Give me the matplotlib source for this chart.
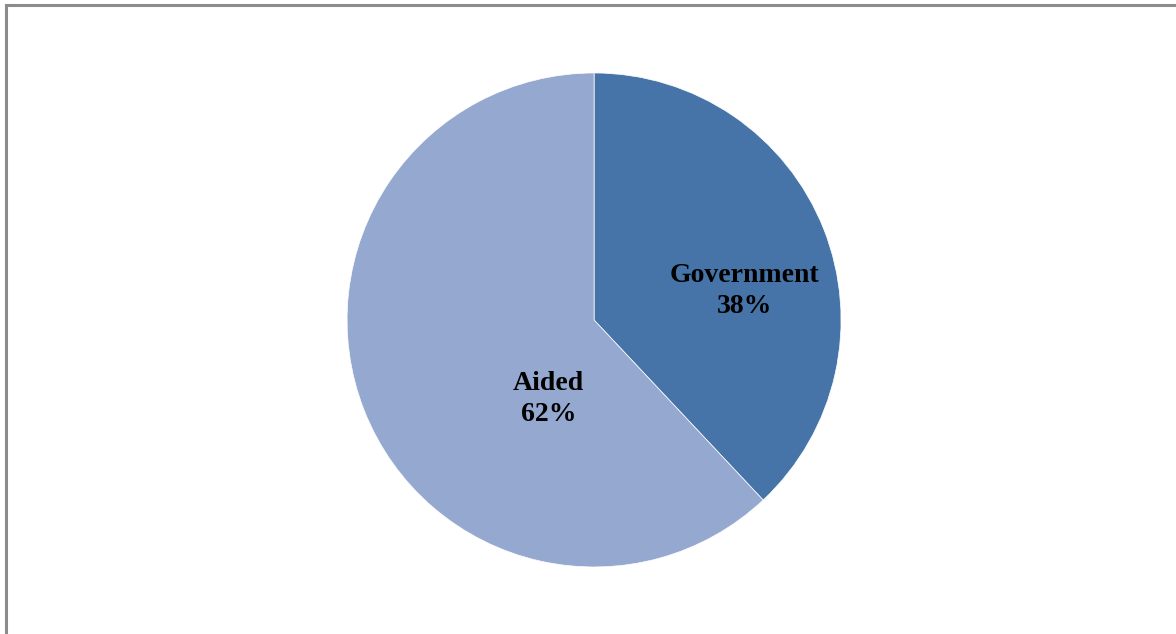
import numpy as np
import matplotlib.pyplot as plt
from matplotlib.lines import Line2D

categories = ["Government", "Aided"]
shares = [38, 62]
colors = ["#4674A8", "#95A9D0"]

# label placement as (radius fraction, angle in degrees)
label_spots = [(0.62, 11.0), (0.37, 240.0)]

fig = plt.figure(figsize=(11.76, 6.34), dpi=100)
fig.patch.set_facecolor("white")

# frame around the chart area (only top and left fall inside the canvas)
fig.add_artist(Line2D([0.005, 1.0], [0.992, 0.992], transform=fig.transFigure,
                      color="#8c8c8c", lw=2.2))
fig.add_artist(Line2D([0.005, 0.005], [0.0, 0.992], transform=fig.transFigure,
                      color="#8c8c8c", lw=2.2))

ax = fig.add_axes([0.2951, 0.1057, 0.4201, 0.7792])
ax.pie(shares, colors=colors, startangle=90, counterclock=False, radius=1.0,
       wedgeprops=dict(edgecolor="white", linewidth=0.5))
ax.set_xlim(-1, 1)
ax.set_ylim(-1, 1)
ax.set_aspect("equal")
ax.axis("off")

for name, val, (r, ang) in zip(categories, shares, label_spots):
    a = np.deg2rad(ang)
    ax.text(r * np.cos(a), r * np.sin(a), f"{name}\n{val}%",
            ha="center", va="center", fontsize=20, fontweight="bold",
            family="Liberation Serif", linespacing=1.3, color="black")

fig.savefig("out.png", dpi=100, facecolor="white")
